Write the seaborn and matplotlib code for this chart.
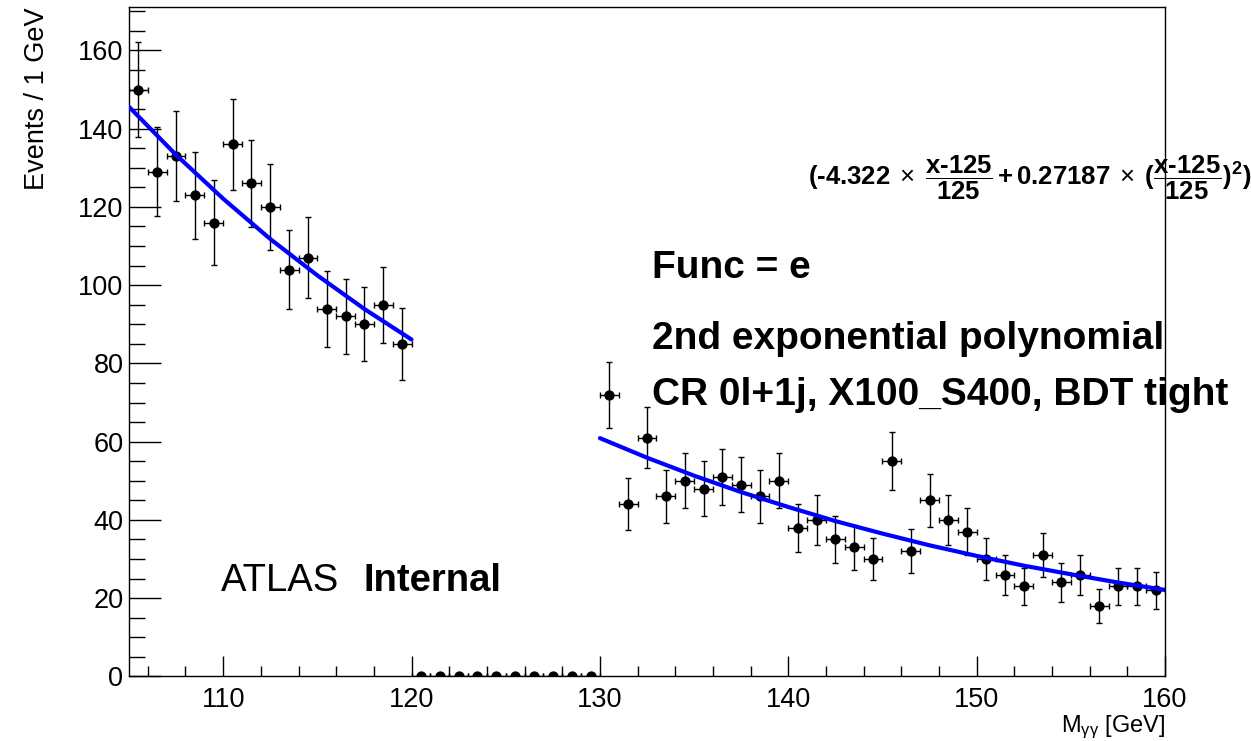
import numpy as np
import pandas as pd
import matplotlib
matplotlib.use('Agg')
import matplotlib.pyplot as plt
from matplotlib.ticker import MultipleLocator
import seaborn as sns

# DATA
mass = np.arange(105.5, 160.0, 1.0)
events = [150, 129, 133, 123, 116, 136, 126, 120, 104, 107, 94, 92, 90, 95, 85,
          0, 0, 0, 0, 0, 0, 0, 0, 0, 0,
          72, 44, 61, 46, 50, 48, 51, 49, 46, 50, 38, 40, 35, 33, 30, 55, 32, 45, 40, 37,
          30, 26, 23, 31, 24, 26, 18, 23, 23, 22]

# fit curve as drawn (two sidebands)
fit_x_low = [105, 107.5, 110, 112.5, 115, 117.5, 120]
fit_y_low = [145.6, 133.3, 122.1, 111.8, 102.5, 93.9, 86.1]
fit_x_high = [130, 132.5, 135, 137.5, 140, 142.5, 145, 147.5, 150, 152.5, 155, 157.5, 160]
fit_y_high = [60.9, 55.9, 51.3, 47.1, 43.3, 39.7, 36.5, 33.5, 30.8, 28.3, 26.1, 24.0, 22.1]

df = pd.DataFrame({'mass': mass, 'events': events})
fit = pd.concat([pd.DataFrame({'x': fit_x_low, 'y': fit_y_low, 'side': 'low'}),
                 pd.DataFrame({'x': fit_x_high, 'y': fit_y_high, 'side': 'high'})])

sns.set_style('ticks')
plt.rcParams['font.family'] = ['Liberation Sans', 'DejaVu Sans']
plt.rcParams['mathtext.fontset'] = 'custom'
plt.rcParams['mathtext.rm'] = 'Liberation Sans'
plt.rcParams['mathtext.bf'] = 'Liberation Sans:bold'
plt.rcParams['mathtext.it'] = 'Liberation Sans:italic'
for k in ['text.color', 'axes.labelcolor', 'xtick.color', 'ytick.color', 'axes.edgecolor']:
    plt.rcParams[k] = 'black'

fig = plt.figure(figsize=(12.51, 7.41), dpi=100)
ax = fig.add_axes([0.1031, 0.0872, 0.8282, 0.9028])

# error bars
ax.errorbar(df['mass'], df['events'], yerr=np.sqrt(df['events']), xerr=0.5,
            fmt='none', ecolor='black', elinewidth=1.0, capsize=2.3, capthick=1.0, zorder=2)
sns.scatterplot(data=df, x='mass', y='events', color='black', s=55, edgecolor='black',
                linewidth=0, ax=ax, zorder=3)
sns.lineplot(data=fit, x='x', y='y', units='side', estimator=None, color='#0000ff',
             linewidth=3, ax=ax, zorder=4)

ax.set_xlim(105, 160)
ax.set_ylim(0, 171)
ax.xaxis.set_major_locator(MultipleLocator(10))
ax.xaxis.set_minor_locator(MultipleLocator(2))
ax.yaxis.set_major_locator(MultipleLocator(20))
ax.yaxis.set_minor_locator(MultipleLocator(5))
ax.tick_params(which='both', direction='in', top=False, right=False, labelsize=19.5, width=1)
ax.tick_params(axis='x', which='major', length=14.4, pad=8)
ax.tick_params(axis='x', which='minor', length=7.2)
ax.tick_params(axis='y', which='major', length=23, pad=4)
ax.tick_params(axis='y', which='minor', length=11.5)
for s in ax.spines.values():
    s.set_linewidth(1.0)

ax.set_xlabel(r'M$_{\mathrm{γγ}}$ [GeV]', fontsize=17, loc='right', labelpad=0)
ax.set_ylabel('Events / 1 GeV', fontsize=19.5, loc='top', labelpad=20)

# annotations
ax.text(0.0885, 0.142, 'ATLAS', transform=ax.transAxes, fontsize=27.5, va='center')
ax.text(0.226, 0.142, 'Internal', transform=ax.transAxes, fontsize=27.5, va='center',
        fontweight='bold')
ax.text(0.505, 0.61, 'Func = e', transform=ax.transAxes, fontsize=28, va='center',
        fontweight='bold')
ax.text(0.655, 0.745,
        r'$\mathbf{(‐4.322}\;\times\;\dfrac{\mathbf{x‐125}}{\mathbf{125}}\,\mathbf{+}\,\mathbf{0.27187}'
        r'\;\times\;\mathbf{(}\dfrac{\mathbf{x‐125}}{\mathbf{125}}\mathbf{)^{2})}$',
        transform=ax.transAxes, fontsize=18.5, va='center', clip_on=False)
ax.text(0.505, 0.505, '2nd exponential polynomial', transform=ax.transAxes, fontsize=28,
        va='center', fontweight='bold')
ax.text(0.505, 0.42, 'CR 0l+1j, X100_S400, BDT tight', transform=ax.transAxes, fontsize=28,
        va='center', fontweight='bold')

fig.savefig('out.png', dpi=100)
